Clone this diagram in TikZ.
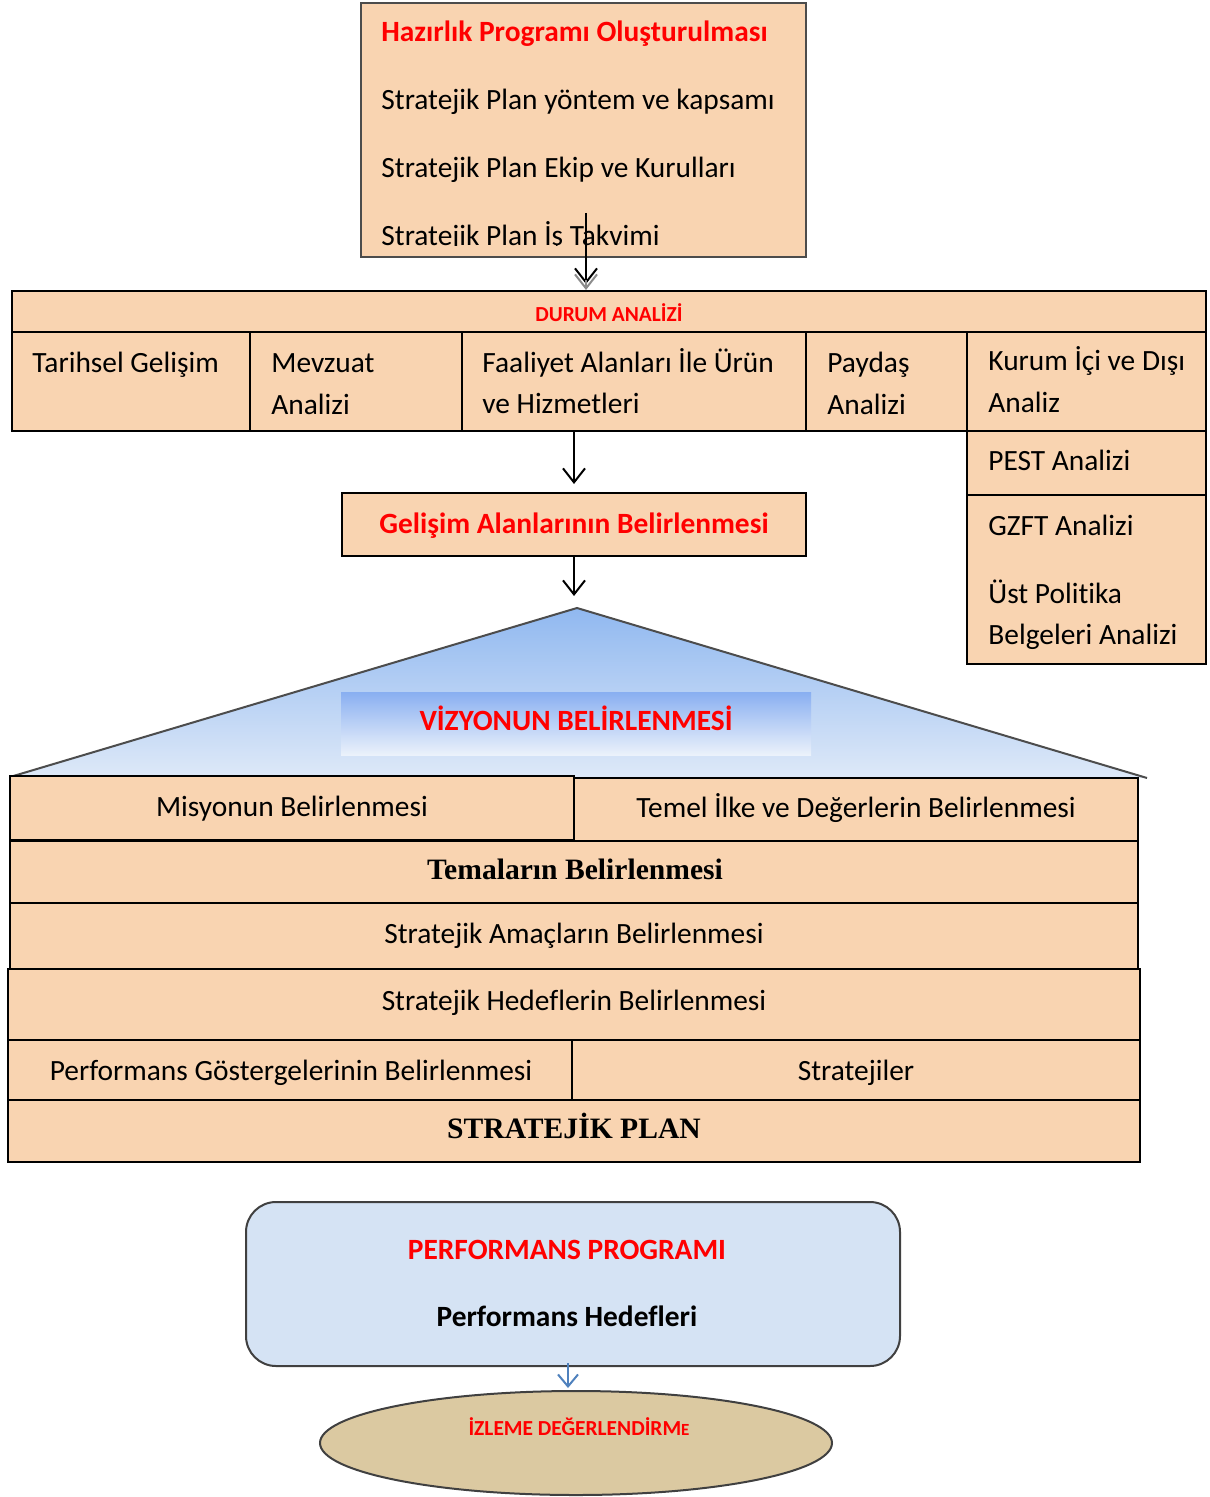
\documentclass[tikz,border=0pt]{standalone}
\usepackage{fontspec}
\setmainfont{Carlito}[Ligatures=NoCommon]
\newfontfamily\timesf{Liberation Serif}
\usetikzlibrary{arrows.meta,fit,shapes.geometric}
\definecolor{peach}{HTML}{F9D4B1}
\definecolor{redt}{HTML}{FF0000}
\definecolor{bluetop}{HTML}{90B8F0}
\definecolor{bluebot}{HTML}{DEE9F8}
\definecolor{perfblue}{HTML}{D5E3F4}
\definecolor{tan}{HTML}{DBC9A1}
\definecolor{arrblue}{HTML}{4F81BD}
\begin{document}
\begin{tikzpicture}[x=0.5pt,y=-0.5pt,
  cell/.style={draw=black, line width=1pt, fill=peach, inner sep=0pt},
  topcell/.style={draw=black!70, line width=1pt, fill=peach, inner sep=0pt},
  lt/.style={inner sep=0pt, anchor=base west, font=\fontsize{14.7}{17}\selectfont},
  ct/.style={inner sep=0pt, anchor=base, font=\fontsize{14.7}{17}\selectfont},
  redb/.style={text=redt, font=\fontsize{14.7}{17}\selectfont\bfseries},
  smallred/.style={text=redt, font=\fontsize{10.7}{12}\selectfont\bfseries},
  serb/.style={font=\fontsize{14.8}{17}\selectfont\timesf\bfseries},
  arr/.style={line width=1pt, -{Straight Barb[length=7pt,width=11pt,line width=1pt]}},
]
\useasboundingbox (0,0) rectangle (1209,1497);

% ---------- top box ----------
\node[topcell, fit={(361,3)(806,257)}] (hazirlik) {};
\begin{scope}
\clip (361,3) rectangle (806,246);
\node[lt, redb, anchor=base west] (t1) at (381,42) {Hazırlık Programı Oluşturulması};
\node[lt] (t2) at (381,110) {Stratejik Plan yöntem ve kapsamı};
\node[lt] (t3) at (381,178) {Stratejik Plan Ekip ve Kurulları};
\node[lt] (t4) at (381,246) {Stratejik Plan İş Takvimi};
\end{scope}

% ---------- durum analizi ----------
\node[cell, fit={(12,291)(1206,332)}] (durum) {};
\node[ct, smallred] (durumt) at (609,322) {DURUM ANALİZİ};
\node[cell, fit={(12,332)(250,431)}] (tarih) {};
\node[cell, fit={(250,332)(462,431)}] (mevzuat) {};
\node[cell, fit={(462,332)(806,431)}] (faaliyet) {};
\node[cell, fit={(806,332)(967,431)}] (paydas) {};
\node[cell, fit={(967,332)(1206,431)}] (kurum) {};
\node[cell, fit={(967,431)(1206,495)}] (pest) {};
\node[cell, fit={(967,495)(1206,664)}] (gzft) {};
\node[lt] (tarihT) at (32,373) {Tarihsel Gelişim};
\node[lt] (mevT1) at (271,373) {Mevzuat};
\node[lt] (mevT2) at (271,415) {Analizi};
\node[lt] (faT1) at (482,373) {Faaliyet Alanları İle Ürün};
\node[lt] (faT2) at (482,414) {ve Hizmetleri};
\node[lt] (payT1) at (827,373) {Paydaş};
\node[lt] (payT2) at (827,415) {Analizi};
\node[lt] (kurT1) at (988,371) {Kurum İçi ve Dışı};
\node[lt] (kurT2) at (988,413) {Analiz};
\node[lt] (pestT) at (988,470) {PEST Analizi};
\node[lt] (gzT1) at (988,535) {GZFT Analizi};
\node[lt] (gzT2) at (988,603) {Üst Politika};
\node[lt] (gzT3) at (988,644) {Belgeleri Analizi};

% ---------- gelisim ----------
\node[cell, fit={(342,493)(806,556)}] (gelisim) {};
\node[ct, redb] (gelisimT) at (574,533) {Gelişim Alanlarının Belirlenmesi};

% ---------- vizyon triangle ----------
\coordinate (apex) at (577,608);
\shade[top color=bluetop, bottom color=bluebot] (apex) -- (10,777) -- (1147,778) -- cycle;
\draw[black!70, line width=1pt] (10,777) -- (apex) -- (1147,778);
\shade[top color=bluetop!95!blue, bottom color=bluebot!60!white] (341,692) rectangle (811,755);
\node[ct, redb] (vizyonT) at (576,730) {VİZYONUN BELİRLENMESİ};

% ---------- plan rows ----------
\node[cell, fit={(10,776)(574,840)}] (misyon) {};
\node[cell, fit={(574,778)(1138,841)}] (temel) {};
\node[cell, fit={(10,841)(1138,903)}] (tema) {};
\node[cell, fit={(10,903)(1138,969)}] (amac) {};
\node[cell, fit={(8,969)(1140,1040)}] (hedef) {};
\node[cell, fit={(8,1040)(572,1100)}] (gosterge) {};
\node[cell, fit={(572,1040)(1140,1100)}] (strat) {};
\node[cell, fit={(8,1100)(1140,1162)}] (plan) {};
\node[ct] (misyonT) at (292,816) {Misyonun Belirlenmesi};
\node[ct] (temelT) at (856,817) {Temel İlke ve Değerlerin Belirlenmesi};
\node[ct, serb] (temaT) at (575,879) {Temaların Belirlenmesi};
\node[ct] (amacT) at (574,943) {Stratejik Amaçların Belirlenmesi};
\node[ct] (hedefT) at (574,1010) {Stratejik Hedeflerin Belirlenmesi};
\node[ct] (gostergeT) at (291,1080) {Performans Göstergelerinin Belirlenmesi};
\node[ct] (stratT) at (856,1080) {Stratejiler};
\node[ct, serb] (planT) at (574,1138) {STRATEJİK PLAN};

% ---------- performans ----------
\node[draw=black!75, line width=1pt, fill=perfblue, rounded corners=15pt, inner sep=0pt, fit={(246,1202)(900,1366)}] (perf) {};
\node[ct, redb] (perfT1) at (567,1259) {PERFORMANS PROGRAMI};
\node[ct, font=\fontsize{14.7}{17}\selectfont\bfseries] (perfT2) at (567,1326) {Performans Hedefleri};

\node[ellipse, draw=black!75, line width=1pt, fill=tan, minimum width=256pt, minimum height=52pt, inner sep=0pt] (izle) at (576,1443) {};
\node[ct, smallred] (izleT) at (579,1435) {İZLEME DEĞERLENDİRM{\fontsize{8.5}{10}\selectfont E}};

% ---------- connectors ----------
\coordinate (a1) at (586,213);
\draw[arr, shorten >=3pt] (a1) -- (a1 |- durum.north);
\draw[black!45, line width=1pt, -{Straight Barb[length=7pt,width=11pt,line width=1pt]}] ([yshift=5pt]a1 |- durum.north) -- (a1 |- durum.north);
\draw[arr, shorten >=4pt] (gelisim.north |- faaliyet.south) -- (gelisim.north);
\draw[arr, shorten >=6pt] (gelisim.south) -- (gelisim.south |- apex);
\coordinate (b1) at (568,1363);
\draw[arrblue, line width=1pt, -{Straight Barb[length=6pt,width=10pt,line width=1pt]}, shorten >=1pt] (b1) -- (b1 |- izle.north);
\end{tikzpicture}
\end{document}
